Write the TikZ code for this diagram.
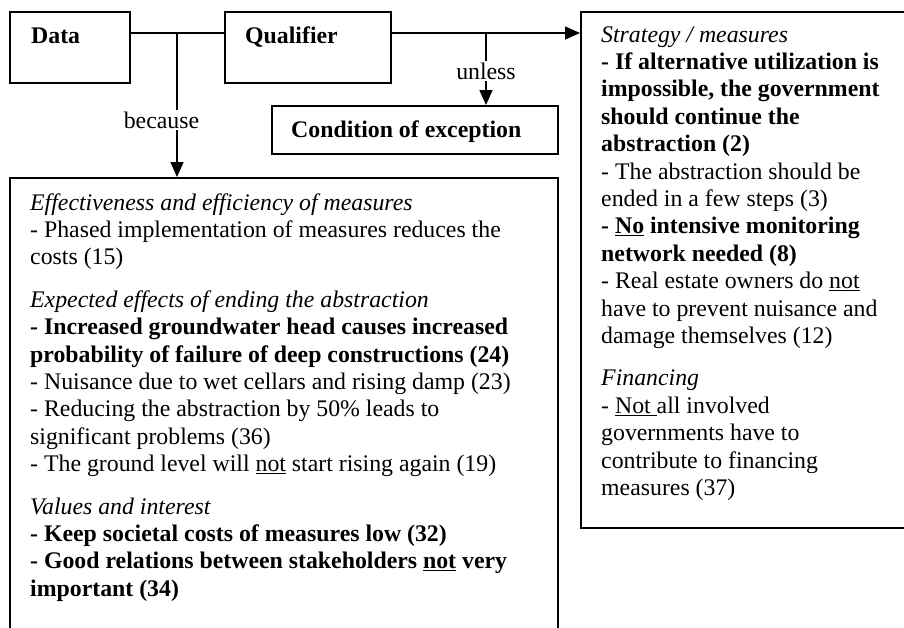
\documentclass[tikz,border=0pt]{standalone}
\usepackage{fontspec}
\setmainfont{Liberation Serif}
\usetikzlibrary{arrows.meta}
\newcommand{\bodyfont}{\fontsize{23.8}{27.4}\selectfont}
\begin{document}
\begin{tikzpicture}[x=1pt,y=-1pt,
  boxnode/.style={draw, line width=1.8pt, rectangle, inner sep=0pt, anchor=north west},
  txt/.style={inner sep=0pt, anchor=base west, font=\bodyfont},
  conn/.style={line width=1.6pt},
  arr/.style={conn, -{Triangle[length=15pt,width=13pt]}},
  lab/.style={inner sep=1.5pt, fill=white, anchor=base, font=\bodyfont}]
\useasboundingbox (0,0) rectangle (904,627);
\clip (0,0) rectangle (904,627);
\fill[white] (0,0) rectangle (904,627);

% boxes
\node[boxnode, minimum width=120pt, minimum height=71pt] (data) at (9,11) {};
\node[boxnode, minimum width=166pt, minimum height=71pt] (qual) at (224,11) {};
\node[boxnode, minimum width=286pt, minimum height=48pt] (cond) at (271,105) {};
\node[boxnode, minimum width=548pt, minimum height=480pt] (big) at (9,177) {};
\node[boxnode, minimum width=340pt, minimum height=516pt] (strat) at (580,11) {};

% box texts
\node[txt] (datat) at (31,43) {\textbf{Data}};
\node[txt] (qualt) at (245,43) {\textbf{Qualifier}};
\node[txt] (condt) at (291,137) {\textbf{Condition of exception}};

\node[txt] (bigt) at (30,210) {\begin{minipage}[t]{525pt}\bodyfont\raggedright
\textit{Effectiveness and efficiency of measures}\\
- Phased implementation of measures reduces the\\
costs (15)\\[15pt]
\textit{Expected effects of ending the abstraction}\\
\textbf{- Increased groundwater head causes increased}\\
\textbf{probability of failure of deep constructions (24)}\\
- Nuisance due to wet cellars and rising damp (23)\\
- Reducing the abstraction by 50\% leads to\\
significant problems (36)\\
- The ground level will \underline{not} start rising again (19)\\[15pt]
\textit{Values and interest}\\
\textbf{- Keep societal costs of measures low (32)}\\
\textbf{- Good relations between stakeholders \underline{not} very}\\
\textbf{important (34)}
\end{minipage}};

\node[txt] (stratt) at (601,42) {\begin{minipage}[t]{300pt}\bodyfont\raggedright
\textit{Strategy / measures}\\
\textbf{- If alternative utilization is}\\
\textbf{impossible, the government}\\
\textbf{should continue the}\\
\textbf{abstraction (2)}\\
- The abstraction should be\\
ended in a few steps (3)\\
\textbf{- \underline{No} intensive monitoring}\\
\textbf{network needed (8)}\\
- Real estate owners do \underline{not}\\
have to prevent nuisance and\\
damage themselves (12)\\[15pt]
\textit{Financing}\\
- \underline{Not\ }all involved\\
governments have to\\
contribute to financing\\
measures (37)
\end{minipage}};

% connectors
\coordinate (j1) at (177,33);
\coordinate (j2) at (486,33);
\draw[conn] (data.east |- j1) -- (qual.west |- j1);
\draw[arr] (qual.east |- j1) -- (strat.west |- j1);
\draw[arr] (j1) -- (big.north -| j1);
\draw[arr] (j2) -- (cond.north -| j2);

% labels
\node[lab] (because) at (161.5,128) {because};
\node[lab] (unless) at (486,79) {unless};
\end{tikzpicture}
\end{document}
